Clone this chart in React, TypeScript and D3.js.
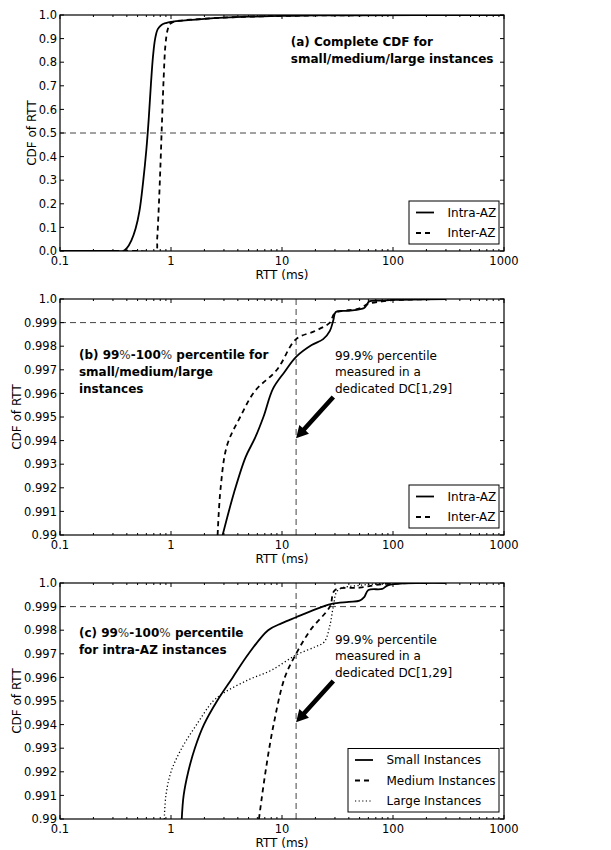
import React from 'react';
import * as d3 from 'd3';

// axis ticks
const xTickValues = [0.1, 1, 10, 100, 1000];
const xTickLabels = ['0.1', '1', '10', '100', '1000'];
const yTicksFull = [0, 0.1, 0.2, 0.3, 0.4, 0.5, 0.6, 0.7, 0.8, 0.9, 1.0];
const yTickLabelsFull = ['0.0', '0.1', '0.2', '0.3', '0.4', '0.5', '0.6', '0.7', '0.8', '0.9', '1.0'];
const yTicksTail = [0.99, 0.991, 0.992, 0.993, 0.994, 0.995, 0.996, 0.997, 0.998, 0.999, 1.0];
const yTickLabelsTail = ['0.99', '0.991', '0.992', '0.993', '0.994', '0.995', '0.996', '0.997', '0.998', '0.999', '1.0'];

// (a) complete CDF, [rtt ms, cdf]
const intraAzFull: [number, number][] = [
  [0.1, 0], [0.3, 0], [0.37, 0], [0.4, 0.012], [0.44, 0.045], [0.48, 0.095], [0.52, 0.17],
  [0.56, 0.29], [0.6, 0.43], [0.63, 0.56], [0.66, 0.71], [0.69, 0.83], [0.72, 0.9],
  [0.76, 0.94], [0.82, 0.958], [0.9, 0.966], [1.0, 0.971], [1.5, 0.979], [2, 0.984],
  [3, 0.989], [5, 0.993], [10, 0.996], [20, 0.998], [50, 0.999], [200, 1], [1000, 1],
];
const interAzFull: [number, number][] = [
  [0.1, 0], [0.5, 0], [0.73, 0], [0.75, 0.05], [0.77, 0.15], [0.8, 0.34], [0.83, 0.55],
  [0.86, 0.74], [0.89, 0.87], [0.93, 0.935], [0.98, 0.962], [1.05, 0.971], [1.2, 0.976],
  [1.5, 0.98], [2, 0.984], [3, 0.989], [5, 0.993], [10, 0.996], [20, 0.998], [50, 0.999],
  [200, 1], [1000, 1],
];

// (b) tail, all instance sizes
const intraAzTail: [number, number][] = [
  [2.92, 0.99], [3.7, 0.9918], [4.7, 0.9933], [5.7, 0.9941], [6.8, 0.995], [8.3, 0.9962],
  [10.5, 0.9969], [13.4, 0.99755], [18.5, 0.99805], [23.5, 0.9983], [27, 0.99865],
  [29, 0.9991], [30.5, 0.99945], [40, 0.9995], [55, 0.99962], [58, 0.99975], [61, 0.9999],
  [80, 0.99993], [100, 0.99996], [300, 1.0],
];
const interAzTail: [number, number][] = [
  [2.63, 0.99], [2.8, 0.992], [3.2, 0.9938], [4.2, 0.995], [5.7, 0.9961], [9, 0.997],
  [13.4, 0.9983], [20, 0.99865], [27, 0.999], [30, 0.9994], [50, 0.9996], [60, 0.9998],
  [80, 0.9999], [100, 0.99995], [300, 1.0],
];

// (c) tail, intra-AZ by instance size
const smallTail: [number, number][] = [
  [1.25, 0.99], [1.3, 0.991], [1.43, 0.992], [1.64, 0.993], [1.98, 0.994], [2.6, 0.995],
  [3.6, 0.996], [5, 0.997], [7.5, 0.998], [10, 0.9983], [13.4, 0.99855], [18, 0.9988],
  [28, 0.99912], [40, 0.9992], [50, 0.99925], [55, 0.9994], [60, 0.9997], [80, 0.99975],
  [90, 0.9999], [300, 1.0],
];
const mediumTail: [number, number][] = [
  [6.2, 0.99], [7.1, 0.992], [8.4, 0.994], [10.6, 0.996], [13.4, 0.997], [18, 0.998],
  [27, 0.999], [30, 0.9997], [50, 0.9998], [80, 0.99995], [200, 1.0],
];
const largeTail: [number, number][] = [
  [0.87, 0.99], [0.9, 0.991], [1.0, 0.992], [1.25, 0.993], [1.7, 0.994], [2.4, 0.995],
  [3, 0.99535], [5, 0.9959], [8, 0.9963], [13.4, 0.99695], [20, 0.9973], [24, 0.9975],
  [27, 0.9982], [29, 0.999], [32, 0.9997], [50, 0.9999], [100, 1.0],
];

const dedicatedP999 = 13.4; // ms, 99.9th percentile in a dedicated DC

const FONT = 'DejaVu Sans, sans-serif';
const W = 611;
const H = 850;
const left = 60;
const right = 504;

type Series = { name: string; data: [number, number][]; dash?: string };

type PanelProps = {
  top: number;
  bottom: number;
  yDomain: [number, number];
  yTicks: number[];
  yLabels: string[];
  refY: number;
  showV: boolean;
  series: Series[];
  legendWidth: number;
  ylabelX: number;
  title: React.ReactNode[];
  titlePos: [number, number];
  arrow: boolean;
};

const pct = <tspan fontWeight="normal" fill="#333">%</tspan>;

function Panel(p: PanelProps) {
  const x = d3.scaleLog().domain([0.1, 1000]).range([left, right]);
  const y = d3.scaleLinear().domain(p.yDomain).range([p.bottom, p.top]);
  const line = d3
    .line<[number, number]>()
    .x((d) => x(d[0]))
    .y((d) => y(d[1]))
    .curve(d3.curveCatmullRom.alpha(0.5));

  const minor: number[] = [];
  [0.1, 1, 10, 100].forEach((dec) => {
    for (let k = 2; k <= 9; k++) minor.push(dec * k);
  });

  const legendRight = right - 5;
  const legendBottom = p.bottom - 7;
  const rowH = 20.5;
  const legendH = p.series.length * rowH + 2;
  const legendTop = legendBottom - legendH;
  const legendLeft = legendRight - p.legendWidth;

  // arrow geometry (data coordinates -> pixels)
  const tail: [number, number] = [x(29), y(0.99585)];
  const tip: [number, number] = [x(dedicatedP999), y(0.9941)];
  const dx = tip[0] - tail[0];
  const dy = tip[1] - tail[1];
  const len = Math.hypot(dx, dy);
  const ux = dx / len;
  const uy = dy / len;
  const nx = -uy;
  const ny = ux;
  const headL = 12;
  const headW = 6.5;
  const shaft = 2.3;
  const bx = tip[0] - ux * headL;
  const by = tip[1] - uy * headL;
  const arrowPts = [
    [tail[0] + nx * shaft, tail[1] + ny * shaft],
    [bx + nx * shaft, by + ny * shaft],
    [bx + nx * headW, by + ny * headW],
    tip,
    [bx - nx * headW, by - ny * headW],
    [bx - nx * shaft, by - ny * shaft],
    [tail[0] - nx * shaft, tail[1] - ny * shaft],
  ]
    .map((q) => q.join(','))
    .join(' ');

  const [tx, ty] = p.titlePos;
  const midY = (p.top + p.bottom) / 2;

  return (
    <g fontFamily={FONT}>
      <defs>
        <clipPath id={`clip${p.top}`}>
          <rect x={left} y={p.top} width={right - left} height={p.bottom - p.top} />
        </clipPath>
      </defs>
      {/* reference lines */}
      <line x1={left} x2={right} y1={y(p.refY)} y2={y(p.refY)} stroke="#444" strokeDasharray="6,4" strokeWidth={1} />
      {p.showV && (
        <line x1={x(dedicatedP999)} x2={x(dedicatedP999)} y1={p.top} y2={p.bottom} stroke="#444" strokeDasharray="6,4" strokeWidth={1} />
      )}
      {/* curves */}
      <g clipPath={`url(#clip${p.top})`}>
        {p.series.map((s) => (
          <path
            key={s.name}
            d={line(s.data) || ''}
            fill="none"
            stroke="#000"
            strokeWidth={s.dash === '1.2,2.4' ? 1.3 : 1.8}
            strokeDasharray={s.dash}
          />
        ))}
      </g>
      {/* frame */}
      <rect x={left} y={p.top} width={right - left} height={p.bottom - p.top} fill="none" stroke="#000" strokeWidth={1.2} />
      {/* x ticks */}
      {xTickValues.map((v, i) => (
        <g key={'x' + v}>
          <line x1={x(v)} x2={x(v)} y1={p.bottom} y2={p.bottom - 4} stroke="#000" />
          <line x1={x(v)} x2={x(v)} y1={p.top} y2={p.top + 4} stroke="#000" />
          <text x={x(v)} y={p.bottom + 14} textAnchor="middle" fontSize={11.5}>
            {xTickLabels[i]}
          </text>
        </g>
      ))}
      {minor.map((v) => (
        <g key={'m' + v}>
          <line x1={x(v)} x2={x(v)} y1={p.bottom} y2={p.bottom - 2} stroke="#000" />
          <line x1={x(v)} x2={x(v)} y1={p.top} y2={p.top + 2} stroke="#000" />
        </g>
      ))}
      {/* y ticks */}
      {p.yTicks.map((v, i) => (
        <g key={'y' + v}>
          <line x1={left} x2={left + 4} y1={y(v)} y2={y(v)} stroke="#000" />
          <line x1={right} x2={right - 4} y1={y(v)} y2={y(v)} stroke="#000" />
          <text x={left - 3} y={y(v)} dy="0.36em" textAnchor="end" fontSize={11.5}>
            {p.yLabels[i]}
          </text>
        </g>
      ))}
      {/* axis labels */}
      <text x={(left + right) / 2} y={p.bottom + 27.5} textAnchor="middle" fontSize={12}>
        RTT (ms)
      </text>
      <text transform={`translate(${p.ylabelX},${midY}) rotate(-90)`} textAnchor="middle" fontSize={12}>
        CDF of RTT
      </text>
      {/* title */}
      <text x={x(tx)} y={y(ty)} fontSize={12} fontWeight="bold">
        {p.title.map((t, i) => (
          <tspan key={i} x={x(tx)} dy={i === 0 ? 0 : 17}>
            {t}
          </tspan>
        ))}
      </text>
      {/* annotation */}
      {p.arrow && (
        <g>
          <text x={x(30)} y={y(0.99742)} fontSize={12}>
            <tspan x={x(30)}>99.9% percentile</tspan>
            <tspan x={x(30)} dy={16.5}>measured in a</tspan>
            <tspan x={x(30)} dy={16.5}>dedicated DC[1,29]</tspan>
          </text>
          <polygon points={arrowPts} fill="#000" />
        </g>
      )}
      {/* legend */}
      <rect x={legendLeft} y={legendTop} width={p.legendWidth} height={legendH} fill="#fff" stroke="#000" strokeWidth={1} />
      {p.series.map((s, i) => {
        const cy = legendTop + 11.5 + i * rowH;
        return (
          <g key={'l' + s.name}>
            <line
              x1={legendLeft + 7}
              x2={legendLeft + 25}
              y1={cy}
              y2={cy}
              stroke="#000"
              strokeWidth={s.dash === '1.2,2.4' ? 1.2 : 1.8}
              strokeDasharray={s.dash}
            />
            <text x={legendLeft + 38.5} y={cy + 4.3} fontSize={12}>
              {s.name}
            </text>
          </g>
        );
      })}
    </g>
  );
}

export default function App() {
  return (
    <svg width={W} height={H} style={{ position: 'absolute', left: 0, top: 0, background: '#fff' }}>
      <rect width={W} height={H} fill="#fff" />
      <Panel
        top={15}
        bottom={251}
        yDomain={[0, 1]}
        yTicks={yTicksFull}
        yLabels={yTickLabelsFull}
        refY={0.5}
        showV={false}
        series={[
          { name: 'Intra-AZ', data: intraAzFull },
          { name: 'Inter-AZ', data: interAzFull, dash: '5,4' },
        ]}
        legendWidth={90}
        ylabelX={36}
        title={['(a) Complete CDF for', 'small/medium/large instances']}
        titlePos={[12, 0.869]}
        arrow={false}
      />
      <Panel
        top={299}
        bottom={535}
        yDomain={[0.99, 1.0]}
        yTicks={yTicksTail}
        yLabels={yTickLabelsTail}
        refY={0.999}
        showV={true}
        series={[
          { name: 'Intra-AZ', data: intraAzTail },
          { name: 'Inter-AZ', data: interAzTail, dash: '5,4' },
        ]}
        legendWidth={90}
        ylabelX={21}
        title={[
          <>(b) 99{pct}-100{pct} percentile for</>,
          'small/medium/large',
          'instances',
        ]}
        titlePos={[0.148, 0.99746]}
        arrow={true}
      />
      <Panel
        top={583}
        bottom={819}
        yDomain={[0.99, 1.0]}
        yTicks={yTicksTail}
        yLabels={yTickLabelsTail}
        refY={0.999}
        showV={true}
        series={[
          { name: 'Small Instances', data: smallTail },
          { name: 'Medium Instances', data: mediumTail, dash: '5,4' },
          { name: 'Large Instances', data: largeTail, dash: '1.2,2.4' },
        ]}
        legendWidth={151}
        ylabelX={21}
        title={[<>(c) 99{pct}-100{pct} percentile</>, 'for intra-AZ instances']}
        titlePos={[0.148, 0.9977]}
        arrow={true}
      />
    </svg>
  );
}
